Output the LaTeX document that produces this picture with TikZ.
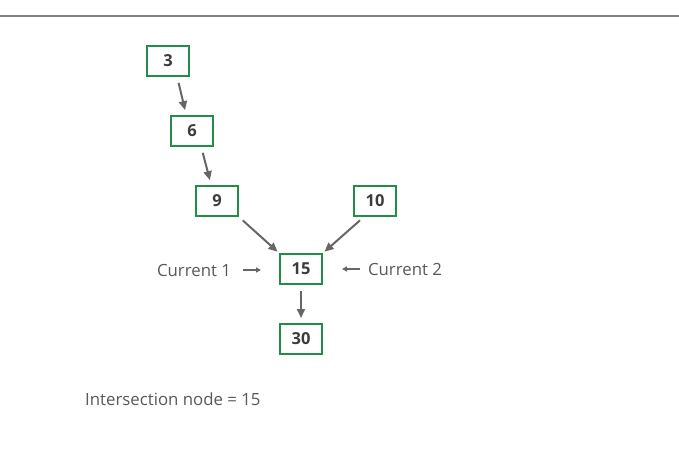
\documentclass[tikz,border=0pt]{standalone}
\usepackage{fontspec}
\setmainfont{Open Sans}
\usepackage{xcolor}
\usetikzlibrary{arrows.meta}
\definecolor{boxG}{RGB}{35,140,72}
\definecolor{lineG}{RGB}{102,102,102}
\definecolor{textG}{RGB}{88,88,88}
\definecolor{numG}{RGB}{60,60,60}
\definecolor{ruleG}{RGB}{128,128,128}
\tikzset{listbox/.style={draw=boxG, line width=2pt, minimum width=42pt, minimum height=30pt,
    inner sep=0pt, font=\fontsize{16.5}{19}\selectfont\bfseries, text=numG},
  nextarr/.style={draw=lineG, line width=2pt, -{Triangle[length=9pt,width=8pt]}},
  ptrarr/.style={draw=lineG, line width=1.4pt, -{Triangle[length=5pt,width=5pt]}},
  ptrlabel/.style={inner sep=0pt, font=\fontsize{16.8}{20}\selectfont, text=textG}}

\begin{document}
\begin{tikzpicture}[x=1pt, y=-1pt]
\useasboundingbox (0,0) rectangle (679,454);
% top rule
\draw[ruleG, line width=2pt] (0,16) -- (679,16);
% list nodes
\node[listbox] (n3)  at (168,61)  {3};
\node[listbox] (n6)  at (192,131) {6};
\node[listbox] (n9)  at (217,201) {9};
\node[listbox] (n10) at (375,201) {10};
\node[listbox] (n15) at (301,269) {15};
\node[listbox] (n30) at (301,339) {30};
% next pointers
\draw[nextarr, shorten <=6pt, shorten >=5pt] (n3.-60) -- (n6.110);
\draw[nextarr, shorten <=6pt, shorten >=5pt] (n6.-60) -- (n9.110);
\draw[nextarr, shorten <=5pt, shorten >=2pt] (n9.south east) -- (n15.north west);
\draw[nextarr, shorten <=5pt, shorten >=2pt] (n10.235) -- (n15.north east);
\draw[nextarr, shorten <=6pt, shorten >=5pt] (n15) -- (n30);
% the two current pointers
\node[ptrlabel] (cur1) at (194,270) {Current 1};
\node[ptrlabel] (cur2) at (405,269) {Current 2};
\draw[ptrarr, shorten <=12pt, shorten >=18pt] (cur1.east) -- (n15.west |- cur1.east);
\draw[ptrarr, shorten <=8pt, shorten >=19pt] (cur2.west) -- (n15.east |- cur2.west);
\node[ptrlabel, anchor=west] (res) at (85,399) {Intersection node = 15};
\end{tikzpicture}
\end{document}
